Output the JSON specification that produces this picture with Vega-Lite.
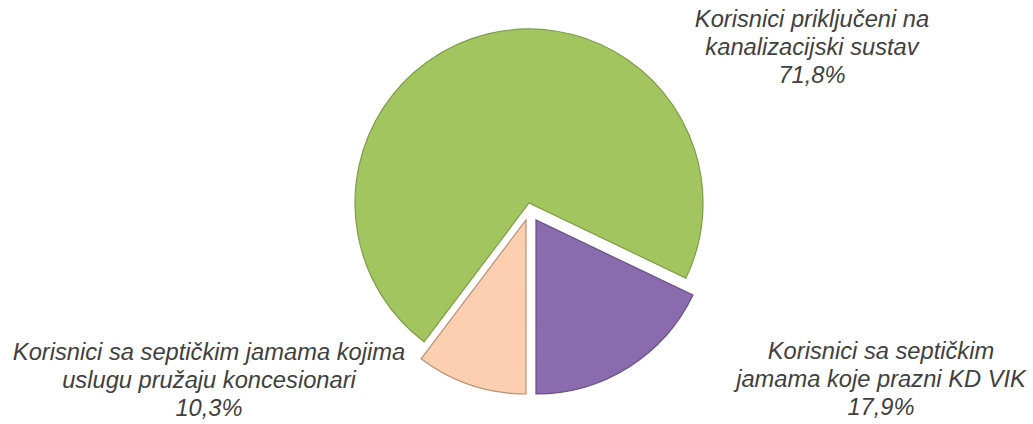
{
  "$schema": "https://vega.github.io/schema/vega-lite/v6.json",
  "width": 1004,
  "height": 424,
  "autosize": "none",
  "padding": {"left": 29, "top": 0, "right": 0, "bottom": 0},
  "background": "white",
  "view": {"stroke": null},
  "data": {
    "values": [
      {"kategorija": "Korisnici priključeni na kanalizacijski sustav", "udio": 71.8, "oznaka": "Korisnici priključeni na\nkanalizacijski sustav\n71,8%"},
      {"kategorija": "Korisnici sa septičkim jamama koje prazni KD VIK", "udio": 17.9, "oznaka": "Korisnici sa septičkim\njamama koje prazni KD VIK\n17,9%"},
      {"kategorija": "Korisnici sa septičkim jamama kojima uslugu pružaju koncesionari", "udio": 10.3, "oznaka": "Korisnici sa septičkim jamama kojima\nuslugu pružaju koncesionari\n10,3%"}
    ]
  },
  "transform": [
    {"stack": "udio", "groupby": [], "sort": [{"field": "kategorija", "order": "ascending"}], "as": ["p0", "p1"]}
  ],
  "encoding": {
    "theta": {"field": "p0", "type": "quantitative", "stack": null, "scale": {"domain": [0, 100], "range": [3.7888, 10.072]}},
    "theta2": {"field": "p1"}
  },
  "layer": [
    {
      "transform": [{"filter": {"field": "kategorija", "equal": "Korisnici priključeni na kanalizacijski sustav"}}],
      "mark": {"type": "arc", "radius": 174, "xOffset": -2, "yOffset": -9, "color": "#A2C55F", "stroke": "#7E9B47", "strokeWidth": 1.2}
    },
    {
      "transform": [{"filter": {"field": "kategorija", "equal": "Korisnici sa septičkim jamama koje prazni KD VIK"}}],
      "mark": {"type": "arc", "radius": 174, "xOffset": 5, "yOffset": 8, "color": "#8A6CAE", "stroke": "#654E85", "strokeWidth": 1.2}
    },
    {
      "transform": [{"filter": {"field": "kategorija", "equal": "Korisnici sa septičkim jamama kojima uslugu pružaju koncesionari"}}],
      "mark": {"type": "arc", "radius": 174, "xOffset": -5, "yOffset": 8, "color": "#FCCFB1", "stroke": "#B98F75", "strokeWidth": 1.2}
    },
    {
      "transform": [{"filter": {"field": "kategorija", "equal": "Korisnici priključeni na kanalizacijski sustav"}}],
      "mark": {"type": "text", "align": "center", "baseline": "alphabetic", "lineBreak": "\n", "lineHeight": 28, "font": "Liberation Sans", "fontStyle": "italic", "fontSize": 23.7, "color": "#404040", "dx": 281, "dy": -185},
      "encoding": {"text": {"field": "oznaka"}, "theta": null, "theta2": null}
    },
    {
      "transform": [{"filter": {"field": "kategorija", "equal": "Korisnici sa septičkim jamama koje prazni KD VIK"}}],
      "mark": {"type": "text", "align": "center", "baseline": "alphabetic", "lineBreak": "\n", "lineHeight": 28, "font": "Liberation Sans", "fontStyle": "italic", "fontSize": 23.7, "color": "#404040", "dx": 350, "dy": 147},
      "encoding": {"text": {"field": "oznaka"}, "theta": null, "theta2": null}
    },
    {
      "transform": [{"filter": {"field": "kategorija", "equal": "Korisnici sa septičkim jamama kojima uslugu pružaju koncesionari"}}],
      "mark": {"type": "text", "align": "center", "baseline": "alphabetic", "lineBreak": "\n", "lineHeight": 28, "font": "Liberation Sans", "fontStyle": "italic", "fontSize": 23.7, "color": "#404040", "dx": -322, "dy": 148},
      "encoding": {"text": {"field": "oznaka"}, "theta": null, "theta2": null}
    }
  ]
}
